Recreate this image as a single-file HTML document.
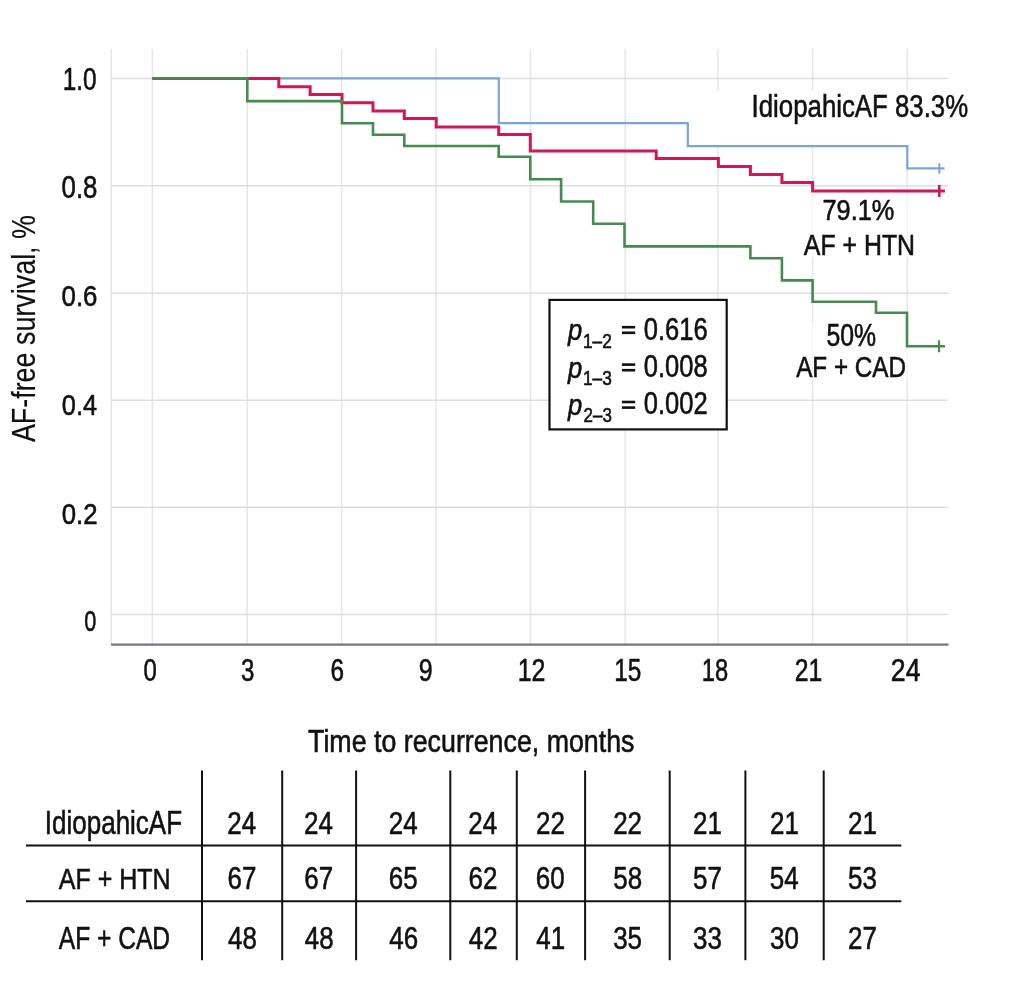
<!DOCTYPE html><html><head><meta charset="utf-8"><style>html,body{margin:0;padding:0;background:#fff;}svg{display:block;filter:blur(0.4px);}text{font-family:"Liberation Sans",sans-serif;stroke:#111;stroke-width:0.6px;}</style></head><body>
<svg width="1016" height="981" viewBox="0 0 1016 981">
<rect width="1016" height="981" fill="#fff"/>
<path d="M111.2,49V644M152.4,49V644M247.2,49V644M341.7,49V644M436.2,49V644M530.5,49V644M625.2,49V644M717.8,49V644M812.6,49V644M907.2,49V644" stroke="#e6e6e6" stroke-width="1.5" fill="none"/>
<path d="M111,78.4H948M111,185.8H948M111,293.3H948M111,400.2H948M111,507.3H948M111,614.5H948" stroke="#dedede" stroke-width="1.5" fill="none"/>
<rect x="700" y="91" width="249" height="55" fill="#fff"/>
<rect x="790" y="192" width="159" height="66" fill="#fff" fill-opacity="0.6"/>
<rect x="790" y="322" width="159" height="58" fill="#fff" fill-opacity="0.6"/>
<path d="M111,644.6H948.5" stroke="#737880" stroke-width="2.2" fill="none"/>
<path d="M152.4,78.4H498.8V123.2H687.8V146.2H907.3V168.4H944.5" stroke="#78a4da" stroke-width="2.2" fill="none"/>
<path d="M939.3,163.3V173.7" stroke="#78a4da" stroke-width="2" fill="none"/>
<path d="M152.4,78.4H278.8V86.8H310.1V94.4H342.0V102.7H373.0V110.9H404.3V118.4H436.2V126.9H498.7V134.6H530.3V151.0H656.2V158.5H718.4V166.6H750.4V174.5H781.9V182.4H812.6V190.9H945" stroke="#cc1a57" stroke-width="3" fill="none"/>
<path d="M939.3,185V197" stroke="#cc1a57" stroke-width="2.6" fill="none"/>
<path d="M152.4,78.4H247.3V101.1H342.0V123.2H373.0V134.7H404.3V146.0H498.7V156.7H530.3V179.3H561.1V201.5H593.2V223.8H624.5V246.4H750.4V258.2H781.9V280.4H812.6V301.8H876.0V312.8H907.0V346.3H945" stroke="#468b4e" stroke-width="2.6" fill="none"/>
<path d="M939,340.3V352.3" stroke="#468b4e" stroke-width="2.2" fill="none"/>
<text transform="translate(62.75,89.50) scale(0.7817,1)" font-size="31.13" style="" fill="#111" >1.0</text>
<text transform="translate(61.57,197.50) scale(0.8418,1)" font-size="30.70" style="" fill="#111" >0.8</text>
<text transform="translate(61.57,306.00) scale(0.8535,1)" font-size="30.28" style="" fill="#111" >0.6</text>
<text transform="translate(61.78,414.50) scale(0.8342,1)" font-size="30.42" style="" fill="#111" >0.4</text>
<text transform="translate(61.77,523.60) scale(0.8671,1)" font-size="29.72" style="" fill="#111" >0.2</text>
<text transform="translate(84.33,630.60) scale(0.7325,1)" font-size="29.58" style="" fill="#111" >0</text>
<text transform="translate(143.44,680.90) scale(0.7803,1)" font-size="30.70" style="" fill="#111" >0</text>
<text transform="translate(241.04,680.90) scale(0.7830,1)" font-size="30.70" style="" fill="#111" >3</text>
<text transform="translate(330.58,680.90) scale(0.7930,1)" font-size="30.70" style="" fill="#111" >6</text>
<text transform="translate(418.75,680.90) scale(0.8142,1)" font-size="30.70" style="" fill="#111" >9</text>
<text transform="translate(517.70,680.90) scale(0.8126,1)" font-size="30.70" style="" fill="#111" >12</text>
<text transform="translate(614.25,680.90) scale(0.7947,1)" font-size="30.70" style="" fill="#111" >15</text>
<text transform="translate(701.80,680.90) scale(0.7731,1)" font-size="30.70" style="" fill="#111" >18</text>
<text transform="translate(794.76,680.90) scale(0.8046,1)" font-size="30.70" style="" fill="#111" >21</text>
<text transform="translate(890.87,680.90) scale(0.8675,1)" font-size="30.70" style="" fill="#111" >24</text>
<text transform="translate(751.58,116.50) scale(0.8022,1)" font-size="32.17" style="" fill="#111" >IdiopahicAF 83.3%</text>
<text transform="translate(822.53,219.50) scale(0.8488,1)" font-size="29.86" style="" fill="#111" >79.1%</text>
<text transform="translate(803.80,254.60) scale(0.8414,1)" font-size="29.57" style="" fill="#111" >AF + HTN</text>
<text transform="translate(826.51,346.20) scale(0.7929,1)" font-size="31.27" style="" fill="#111" >50%</text>
<text transform="translate(796.20,376.60) scale(0.8164,1)" font-size="29.71" style="" fill="#111" >AF + CAD</text>
<rect x="549.5" y="299.9" width="177.2" height="129.5" fill="#fff" stroke="#111" stroke-width="2.2"/>
<text transform="translate(568.11,340.30) scale(0.8415,1)" font-size="30.37" style="font-style:italic;" fill="#111" >p</text>
<text transform="translate(583.02,347.60) scale(0.8575,1)" font-size="20.14" style="" fill="#111" >1–2</text>
<rect x="621.9" y="325.9" width="13.3" height="2.6" fill="#111"/>
<rect x="621.9" y="331.5" width="13.3" height="2.6" fill="#111"/>
<text transform="translate(643.78,339.50) scale(0.8317,1)" font-size="30.70" style="" fill="#111" >0.616</text>
<text transform="translate(568.11,377.70) scale(0.8415,1)" font-size="30.37" style="font-style:italic;" fill="#111" >p</text>
<text transform="translate(583.02,385.00) scale(0.8575,1)" font-size="20.14" style="" fill="#111" >1–3</text>
<rect x="621.9" y="363.3" width="13.3" height="2.6" fill="#111"/>
<rect x="621.9" y="368.9" width="13.3" height="2.6" fill="#111"/>
<text transform="translate(643.78,376.90) scale(0.8317,1)" font-size="30.70" style="" fill="#111" >0.008</text>
<text transform="translate(568.11,415.10) scale(0.8415,1)" font-size="30.37" style="font-style:italic;" fill="#111" >p</text>
<text transform="translate(583.55,422.40) scale(0.8411,1)" font-size="20.14" style="" fill="#111" >2–3</text>
<rect x="621.9" y="400.7" width="13.3" height="2.6" fill="#111"/>
<rect x="621.9" y="406.3" width="13.3" height="2.6" fill="#111"/>
<text transform="translate(643.78,414.30) scale(0.8317,1)" font-size="30.70" style="" fill="#111" >0.002</text>
<text transform="translate(308.06,751.90) scale(0.8517,1)" font-size="31.45" style="" fill="#111" >Time to recurrence, months</text>
<text transform="translate(34.8,442.10) rotate(-90) scale(0.8176,1)" font-size="32.90" fill="#111" style="stroke-width:0.15px">AF-free survival, %</text>
<path d="M202,770.4V960.2M282.2,770.4V960.2M356.1,770.4V960.2M450.3,770.4V960.2M516.8,770.4V960.2M585.1,770.4V960.2M669.7,770.4V960.2M745.4,770.4V960.2M823.7,770.4V960.2M26,845.5H901.3M26,901.2H901.3" stroke="#111" stroke-width="2" fill="none"/>
<text transform="translate(44.86,834.10) scale(0.7863,1)" font-size="33.04" style="" fill="#111" >IdiopahicAF</text>
<text transform="translate(58.80,888.70) scale(0.8257,1)" font-size="30.29" style="" fill="#111" >AF + HTN</text>
<text transform="translate(58.80,949.00) scale(0.7712,1)" font-size="31.88" style="" fill="#111" >AF + CAD</text>
<text transform="translate(227.30,834.00) scale(0.8260,1)" font-size="31.43" fill="#111">24</text>
<text transform="translate(304.10,834.00) scale(0.8260,1)" font-size="31.43" fill="#111">24</text>
<text transform="translate(388.70,834.00) scale(0.8260,1)" font-size="31.43" fill="#111">24</text>
<text transform="translate(468.20,834.00) scale(0.8260,1)" font-size="31.43" fill="#111">24</text>
<text transform="translate(535.96,834.00) scale(0.8260,1)" font-size="31.43" fill="#111">22</text>
<text transform="translate(613.16,834.00) scale(0.8260,1)" font-size="31.43" fill="#111">22</text>
<text transform="translate(692.96,834.00) scale(0.8260,1)" font-size="31.43" fill="#111">21</text>
<text transform="translate(769.96,834.00) scale(0.8260,1)" font-size="31.43" fill="#111">21</text>
<text transform="translate(847.96,834.00) scale(0.8260,1)" font-size="31.43" fill="#111">21</text>
<text transform="translate(227.56,889.00) scale(0.8260,1)" font-size="31.43" fill="#111">67</text>
<text transform="translate(304.36,889.00) scale(0.8260,1)" font-size="31.43" fill="#111">67</text>
<text transform="translate(388.83,889.00) scale(0.8260,1)" font-size="31.43" fill="#111">65</text>
<text transform="translate(468.46,889.00) scale(0.8260,1)" font-size="31.43" fill="#111">62</text>
<text transform="translate(535.83,889.00) scale(0.8260,1)" font-size="31.43" fill="#111">60</text>
<text transform="translate(613.29,889.00) scale(0.8260,1)" font-size="31.43" fill="#111">58</text>
<text transform="translate(693.09,889.00) scale(0.8260,1)" font-size="31.43" fill="#111">57</text>
<text transform="translate(769.83,889.00) scale(0.8260,1)" font-size="31.43" fill="#111">54</text>
<text transform="translate(848.09,889.00) scale(0.8260,1)" font-size="31.43" fill="#111">53</text>
<text transform="translate(227.95,949.00) scale(0.8260,1)" font-size="31.43" fill="#111">48</text>
<text transform="translate(304.75,949.00) scale(0.8260,1)" font-size="31.43" fill="#111">48</text>
<text transform="translate(389.35,949.00) scale(0.8260,1)" font-size="31.43" fill="#111">46</text>
<text transform="translate(468.85,949.00) scale(0.8260,1)" font-size="31.43" fill="#111">42</text>
<text transform="translate(536.35,949.00) scale(0.8260,1)" font-size="31.43" fill="#111">41</text>
<text transform="translate(613.16,949.00) scale(0.8260,1)" font-size="31.43" fill="#111">35</text>
<text transform="translate(693.09,949.00) scale(0.8260,1)" font-size="31.43" fill="#111">33</text>
<text transform="translate(769.96,949.00) scale(0.8260,1)" font-size="31.43" fill="#111">30</text>
<text transform="translate(847.96,949.00) scale(0.8260,1)" font-size="31.43" fill="#111">27</text>
</svg></body></html>
